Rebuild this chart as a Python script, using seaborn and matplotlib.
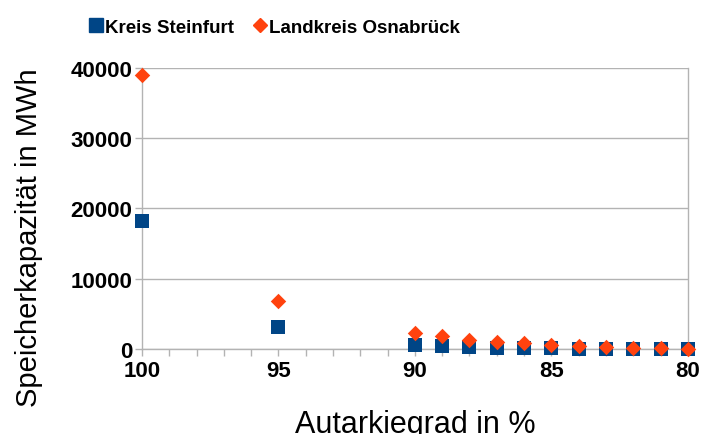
import matplotlib
matplotlib.use("Agg")
import matplotlib.pyplot as plt
import seaborn as sns
import pandas as pd
from matplotlib.ticker import MultipleLocator, FuncFormatter
from matplotlib.lines import Line2D

autarkie = [100, 95, 90, 89, 88, 87, 86, 85, 84, 83, 82, 81, 80]
steinfurt = [18200, 3150, 600, 450, 300, 200, 130, 80, 50, 30, 20, 10, 5]
osnabrueck = [38950, 6850, 2300, 1800, 1330, 1040, 800, 620, 470, 330, 190, 95, 20]
series_names = ["Kreis Steinfurt", "Landkreis Osnabrück"]
colors = ["#004586", "#ff420e"]
markers = ["s", "D"]

df_st = pd.DataFrame({"Autarkiegrad": autarkie, "Wert": steinfurt})
df_os = pd.DataFrame({"Autarkiegrad": autarkie, "Wert": osnabrueck})

sns.set_theme(style="white")
plt.rcParams["font.family"] = ["Liberation Sans", "DejaVu Sans"]
plt.rcParams["text.color"] = "black"
plt.rcParams["axes.labelcolor"] = "black"
plt.rcParams["xtick.labelcolor"] = "black"
plt.rcParams["ytick.labelcolor"] = "black"

fig = plt.figure(figsize=(7.04, 4.35), dpi=100)
ax = fig.add_axes([0.2017, 0.1954, 0.7753, 0.6460])

sns.scatterplot(data=df_st, x="Autarkiegrad", y="Wert", color=colors[0], marker=markers[0],
                s=115, linewidth=0, ax=ax, legend=False, zorder=3, clip_on=False)
sns.scatterplot(data=df_os, x="Autarkiegrad", y="Wert", color=colors[1], marker=markers[1],
                s=62, linewidth=0, ax=ax, legend=False, zorder=4, clip_on=False)

ax.set_xlim(100, 80)
ax.set_ylim(0, 40000)
ax.xaxis.set_major_locator(MultipleLocator(5))
ax.xaxis.set_minor_locator(MultipleLocator(1))
ax.yaxis.set_major_locator(MultipleLocator(10000))
ax.xaxis.set_major_formatter(FuncFormatter(lambda v, p: f"{int(v)}"))
ax.yaxis.set_major_formatter(FuncFormatter(lambda v, p: f"{int(v)}"))

ax.grid(axis="y", color="#b3b3b3", linewidth=1)
ax.grid(axis="x", visible=False)
for side in ["left", "right", "bottom"]:
    ax.spines[side].set_visible(True)
    ax.spines[side].set_color("#b3b3b3")
    ax.spines[side].set_linewidth(1)
ax.spines["top"].set_visible(False)

ax.tick_params(axis="x", which="both", bottom=True, direction="out", color="#b3b3b3",
               length=5, width=1)
ax.tick_params(axis="x", which="major", labelsize=16, pad=3)
ax.tick_params(axis="y", which="major", left=True, direction="out", color="#b3b3b3",
               length=5, width=1, labelsize=16, pad=2)
for lab in ax.get_xticklabels() + ax.get_yticklabels():
    lab.set_fontweight("bold")

ax.set_xlabel("Autarkiegrad in %", fontsize=22, labelpad=20)
ax.set_ylabel("Speicherkapazität in MWh", fontsize=21)
ax.yaxis.set_label_coords(-0.182, 0.40)

handles = [
    Line2D([], [], linestyle="none", marker="s", color=colors[0], markersize=9.5),
    Line2D([], [], linestyle="none", marker="D", color=colors[1], markersize=7.5),
]
fig.legend(handles, series_names, loc="center", bbox_to_anchor=(0.39, 0.935), ncol=2,
           frameon=False, prop={"weight": "bold", "size": 13.5}, handlelength=0.7,
           handletextpad=0.15, columnspacing=1.0)

fig.savefig("out.png", dpi=100)
